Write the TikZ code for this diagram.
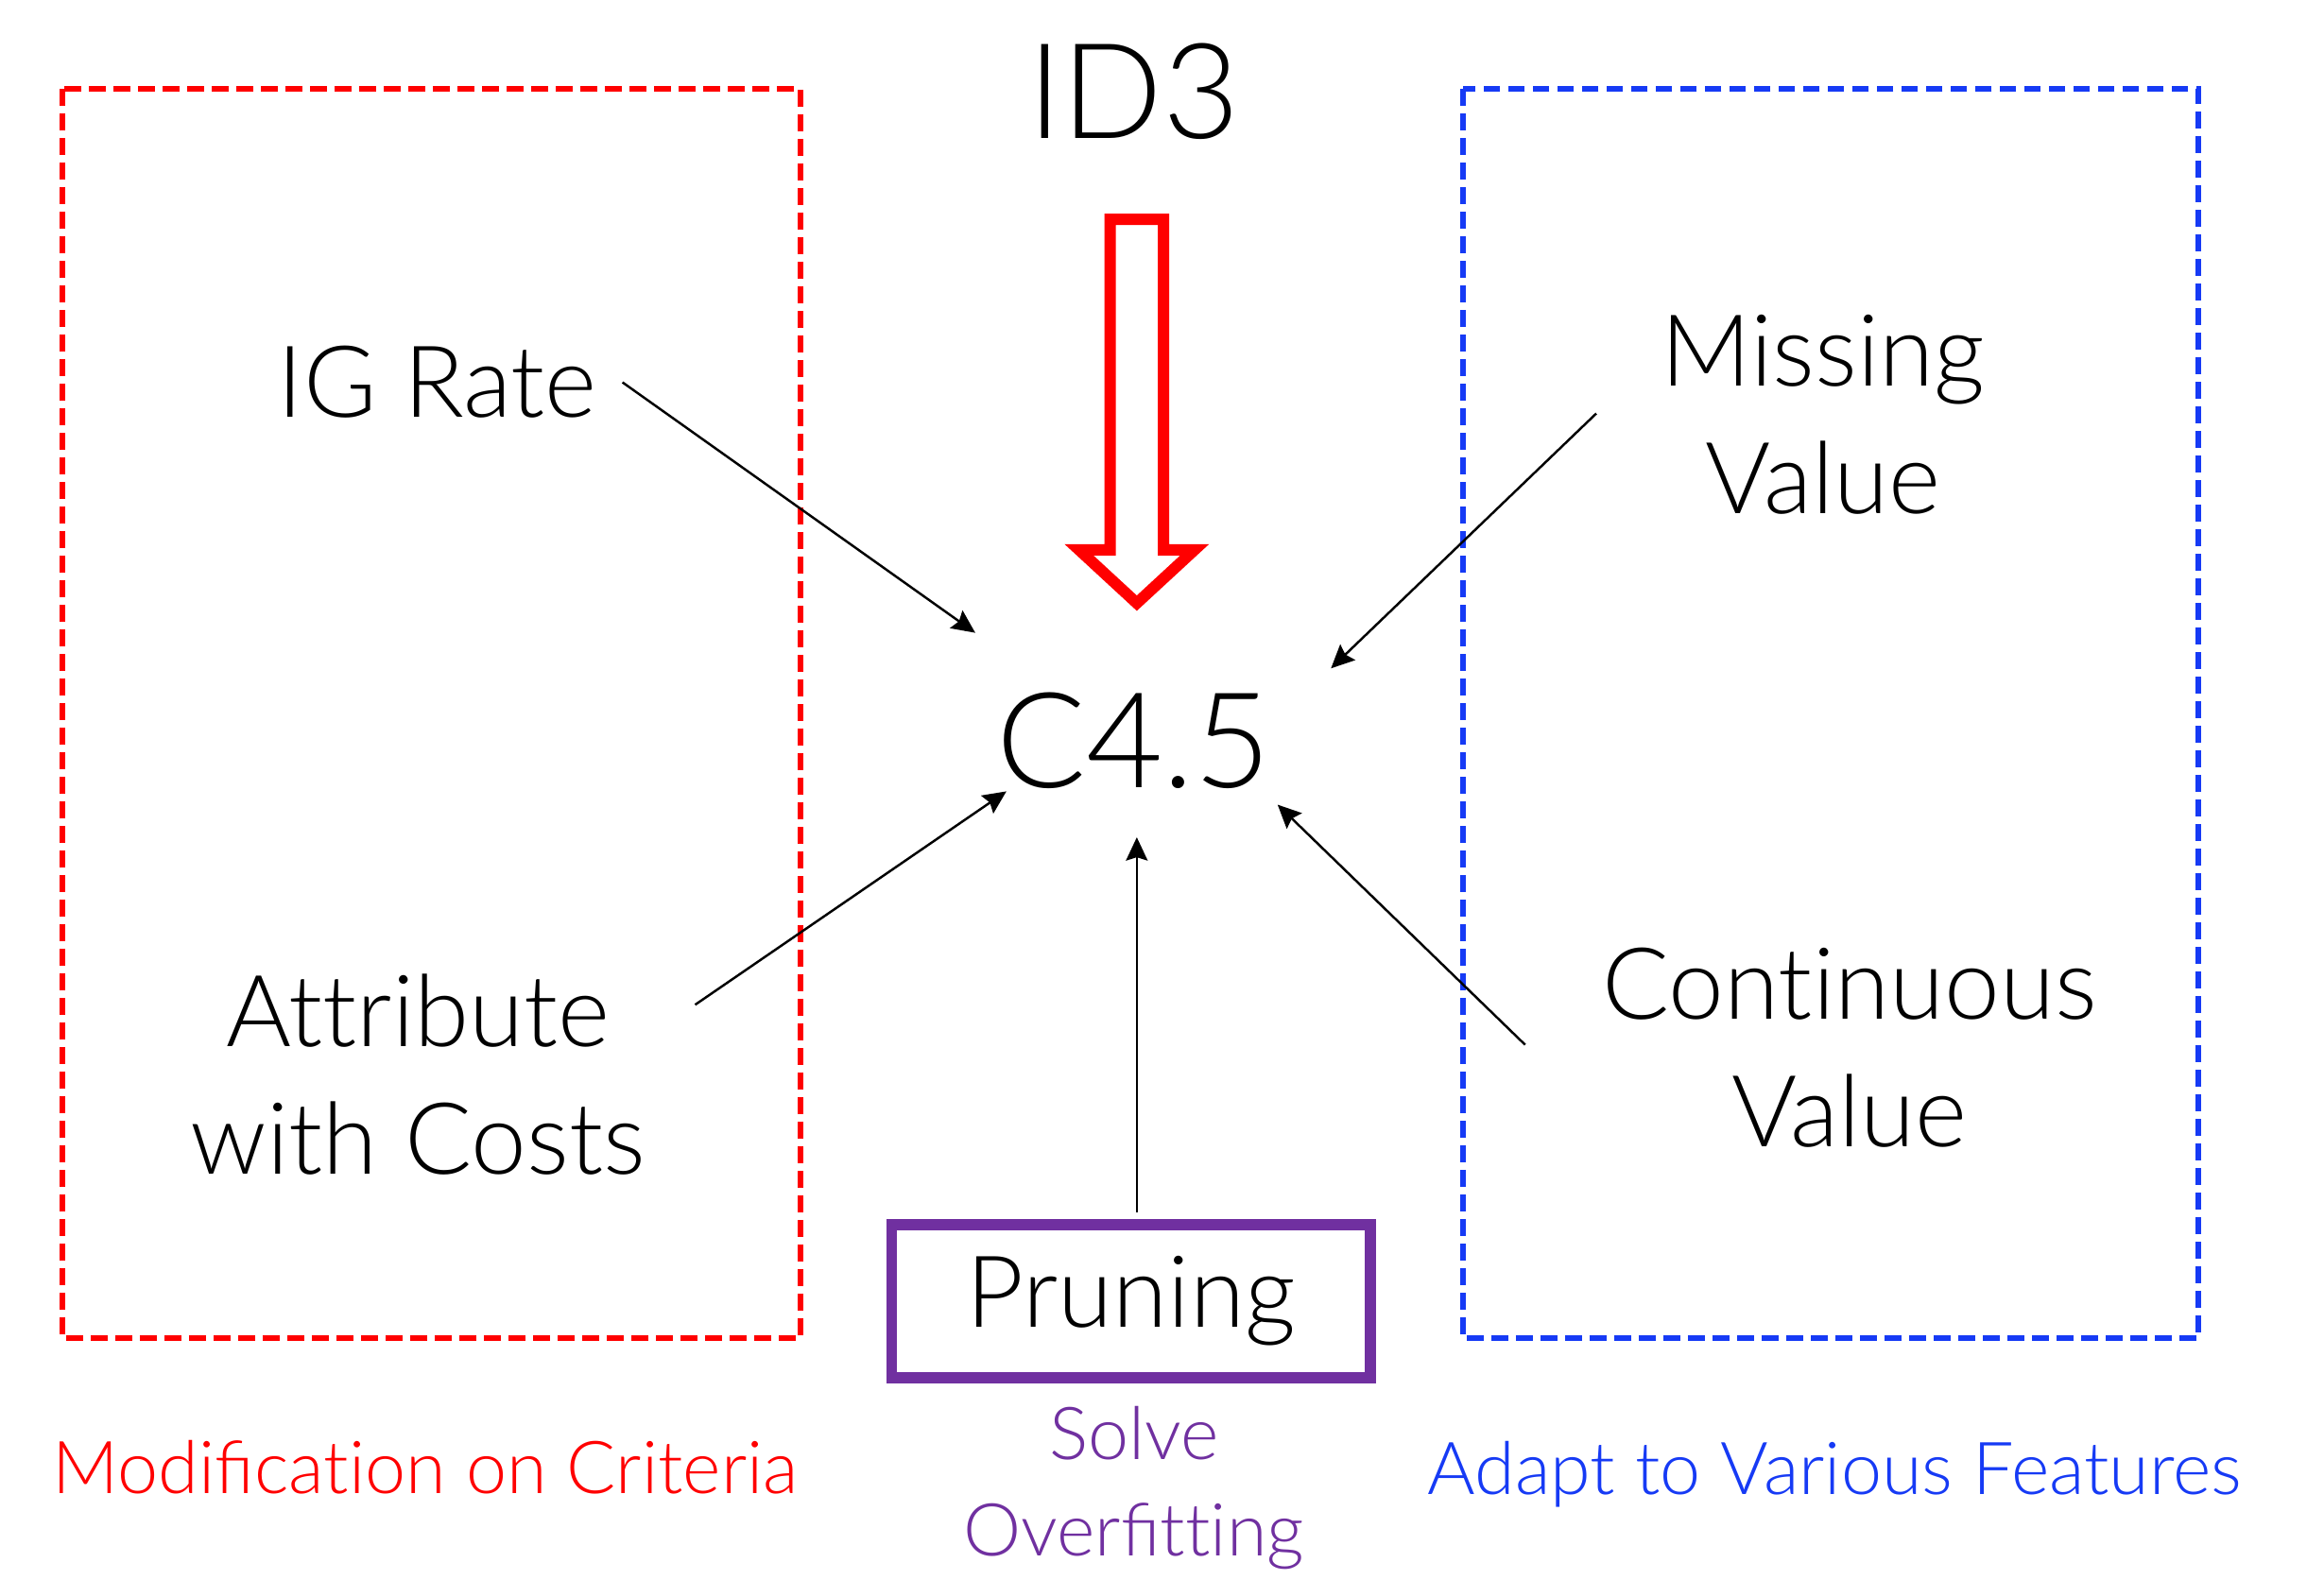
\documentclass[tikz,border=0pt]{standalone}
\usepackage{fontspec}
\IfFontExistsTF{Lato Light}{\setmainfont{Lato Light}}{\setmainfont{Lato}}
\usetikzlibrary{arrows.meta}
\definecolor{pptred}{RGB}{255,0,0}
\definecolor{pptblue}{RGB}{22,58,245}
\definecolor{pptpurple}{RGB}{112,48,160}
\newcommand{\nolig}{\kern0pt }
\begin{document}
\begin{tikzpicture}[x=0.01568cm,y=-0.01568cm,
  lbl/.style={font=\fontsize{30}{38.4}\selectfont, align=center, inner sep=0pt},
  big/.style={font=\fontsize{40}{48}\selectfont, inner sep=0pt},
  note/.style={font=\fontsize{22}{29}\selectfont, align=center, inner sep=0pt},
  grp/.style={dashed, dash pattern=on 5pt off 2.4pt, line width=1.6pt},
  prbox/.style={draw=pptpurple, line width=3.2pt, minimum width=5.07cm, minimum height=1.62cm},
  conn/.style={-{Stealth[length=7pt,width=6.5pt,inset=1pt]}, line width=0.7pt}]
\useasboundingbox (0,0) rectangle (1568,1066);
% group boxes
\draw[grp, pptred] (42,60) rectangle (540,903);
\draw[grp, pptblue] (987,60) rectangle (1483,903);
% texts
\node[big] (id3) at (765,62) {ID3};
\node[big] (c45) at (765,500) {C4.5};
\node[lbl] (ig) at (295,258) {IG Rate};
\node[lbl] (mv) at (1230,280) {Missing\\Value};
\node[lbl] (ac) at (282,725) {At\nolig t\nolig ribute\\with Costs};
\node[lbl] (cv) at (1248,707) {Cont\nolig inuous\\Value};
\node[lbl, prbox] (pr) at (763,878) {Pruning};
\node[note, text=pptpurple] (so) at (765,1004) {Solve\\Overfit\nolig t\nolig ing};
\node[note, text=pptred] (mc) at (287,990) {Modificat\nolig ion on Criteria};
\node[note, text=pptblue] (av) at (1238,995) {Adapt to Various Features};
% hollow arrow ID3 -> C4.5
\draw[pptred, line width=3.4pt, line join=miter]
  (749,148) -- (785,148) -- (785,371) -- (806,371) -- (767,407) -- (728,371) -- (749,371) -- cycle;
% arrows
\coordinate (igS) at (420,258); \coordinate (igE) at (658,427);
\coordinate (acS) at (469,678); \coordinate (acE) at (679,534);
\coordinate (prS) at (767,818); \coordinate (prE) at (767,565);
\coordinate (mvS) at (1077,279); \coordinate (mvE) at (898,451);
\coordinate (cvS) at (1029,705); \coordinate (cvE) at (862,543);
\draw[conn] (igS) -- (igE);
\draw[conn] (acS) -- (acE);
\draw[conn] (prS) -- (prE);
\draw[conn] (mvS) -- (mvE);
\draw[conn] (cvS) -- (cvE);
\end{tikzpicture}
\end{document}
